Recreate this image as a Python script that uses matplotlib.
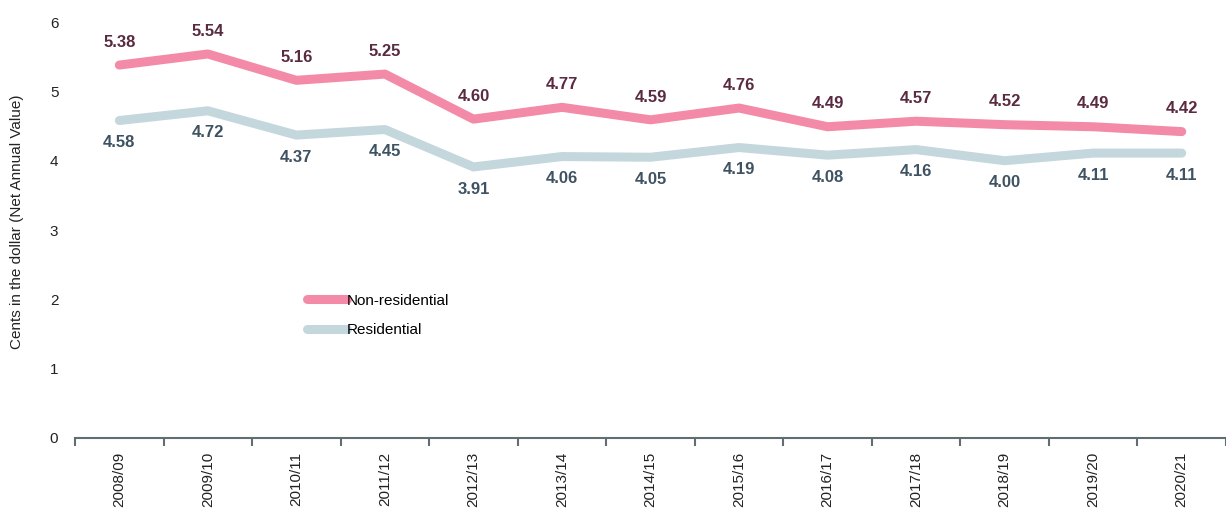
import matplotlib.pyplot as plt

# rates in cents per dollar of net annual value, by financial year
YEARS = ["2008/09", "2009/10", "2010/11", "2011/12", "2012/13", "2013/14", "2014/15",
         "2015/16", "2016/17", "2017/18", "2018/19", "2019/20", "2020/21"]
NON_RESIDENTIAL = [5.38, 5.54, 5.16, 5.25, 4.60, 4.77, 4.59, 4.76, 4.49, 4.57, 4.52, 4.49, 4.42]
RESIDENTIAL = [4.58, 4.72, 4.37, 4.45, 3.91, 4.06, 4.05, 4.19, 4.08, 4.16, 4.00, 4.11, 4.11]

PINK = "#F38BA8"
GREY = "#C4D7DD"

plt.rcParams["font.family"] = ["Liberation Sans", "DejaVu Sans"]

fig = plt.figure(figsize=(12.26, 5.14), dpi=100)
ax = fig.add_axes([0.0612, 0.148, 0.9388, 0.809])

x = list(range(len(YEARS)))
ax.plot(x, NON_RESIDENTIAL, color=PINK, lw=6.5, solid_capstyle="round", label="Non-residential")
ax.plot(x, RESIDENTIAL, color=GREY, lw=6.5, solid_capstyle="round", label="Residential")

for i, v in enumerate(NON_RESIDENTIAL):
    ax.annotate(f"{v:.2f}", (i, v), xytext=(0, 11), textcoords="offset points",
                ha="center", va="bottom", fontsize=12, fontweight="bold", color="#5A2A40")
for i, v in enumerate(RESIDENTIAL):
    ax.annotate(f"{v:.2f}", (i, v), xytext=(0, -10.5), textcoords="offset points",
                ha="center", va="top", fontsize=12, fontweight="bold", color="#3E5262")

ax.set_xlim(-0.5, -0.5 + 1151 / 89.3)
ax.set_ylim(0, 6)
ax.set_yticks(range(7))
ax.set_xticks(x)
ax.set_xticklabels(YEARS, rotation=90, fontsize=11, color="#222222")
ax.set_xticks([i - 0.5 for i in range(len(YEARS) + 1)], minor=True)
ax.tick_params(axis="x", which="major", length=0, pad=10)
ax.tick_params(axis="x", which="minor", length=6, width=1.5, color="#5E6E72")
ax.tick_params(axis="y", length=0, pad=12, labelsize=11, labelcolor="#222222")

for side in ("top", "right", "left"):
    ax.spines[side].set_visible(False)
ax.spines["bottom"].set_color("#5E6E72")
ax.spines["bottom"].set_linewidth(1.5)

ax.set_ylabel("Cents in the dollar (Net Annual Value)", fontsize=11, color="#222222")
ax.yaxis.set_label_coords(-0.044, 0.52)

ax.legend(loc="upper left", bbox_to_anchor=(0.19, 0.38), frameon=False, fontsize=11,
          handlelength=2.6, handletextpad=0.0, labelspacing=1.0)

fig.savefig("out.png", dpi=100)
